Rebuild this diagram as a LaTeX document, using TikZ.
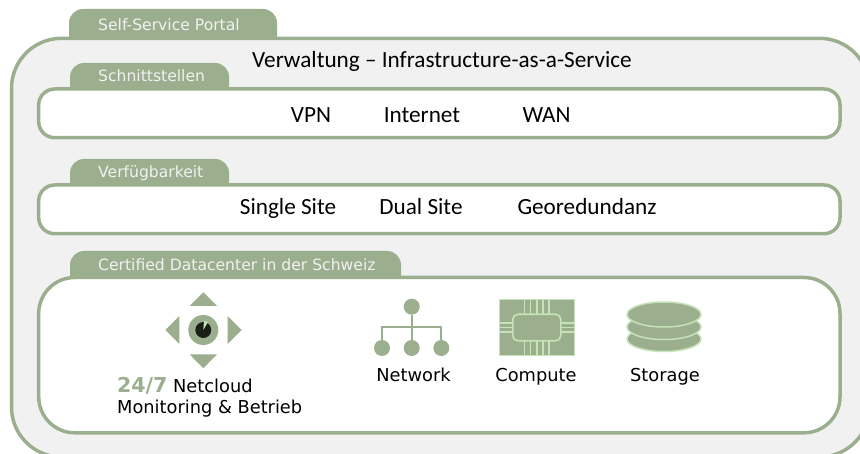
\documentclass[tikz,border=0pt]{standalone}
\usepackage{fontspec}
\setmainfont{Carlito}
\newfontfamily\vfont{DejaVu Sans}
\usepackage{tikz}
\usetikzlibrary{positioning,shapes.geometric}
\definecolor{sagegreen}{HTML}{9BAF8F}
\definecolor{palegreen}{HTML}{C6E3B8}
\definecolor{panelgrey}{HTML}{F1F1F1}
\definecolor{eyeblack}{HTML}{1A1F18}
\tikzset{
  panel/.style={draw=sagegreen, line width=3.5pt, rounded corners=#1, fill=white, inner sep=0pt, outer sep=0pt, anchor=north west},
  tablabel/.style={text=panelgrey, font=\vfont\fontsize{15.6}{15.6}\selectfont, anchor=base west, inner sep=0pt},
  entry/.style={font=\fontsize{23.2}{23.2}\selectfont, text=black, inner sep=0pt, anchor=base},
  iconlabel/.style={font=\vfont\fontsize{17.8}{17.8}\selectfont, text=black, inner sep=0pt, anchor=base},
  netdot/.style={circle, fill=sagegreen, minimum size=16pt, inner sep=0pt},
  pin/.style={draw=palegreen, line width=1.6pt},
  disk/.style={draw=palegreen, fill=sagegreen, line width=1.5pt, ellipse, minimum width=74pt, minimum height=25pt, inner sep=0pt},
}
\newcommand{\tabshape}[3]{\fill[sagegreen] (#1,#3+28) [rounded corners=14pt] -- (#1,#3) -- (#2,#3) [sharp corners] -- (#2,#3+28) -- cycle;}
\begin{document}
\begin{tikzpicture}[x=1pt,y=-1pt]
  \useasboundingbox (0,0) rectangle (860,454);
  % Tabs
  \tabshape{69}{277}{9}
  \node[panel=50pt, fill=panelgrey, minimum width=858pt, minimum height=418.7pt] (outer) at (11.5,38.3) {};
  \tabshape{70}{229}{63}
  \tabshape{70}{229}{159}
  \tabshape{70}{401}{251}

  % Panels
  \node[panel=16pt, minimum width=801.3pt, minimum height=48.7pt] (access) at (38.7,89) {};
  \node[panel=16pt, minimum width=801.3pt, minimum height=48.7pt] (avail) at (38.7,185) {};
  \node[panel=36pt, minimum width=801.3pt, minimum height=155.3pt] (dc) at (38.7,277.5) {};

  % Tab labels
  \node[tablabel] (portal) at (98,30.5) {Self-Service Portal};
  \node[tablabel] (ifaces) at (98,81.5) {Schnittstellen};
  \node[tablabel] (verf) at (98,178) {Verfügbarkeit};
  \node[tablabel] (cert) at (98,270.8) {Certified Datacenter in der Schweiz};

  % Texts
  \node[entry] (title) at (442,67.5) {Verwaltung – Infrastructure-as-a-Service};
  \node[entry] (vpn) at (311,122.5) {VPN};
  \node[entry] (inet) at (422,122.5) {Internet};
  \node[entry] (wan) at (546.5,122.5) {WAN};
  \node[entry] (single) at (288,214.5) {Single Site};
  \node[entry] (dual) at (421,214.5) {Dual Site};
  \node[entry] (geo) at (587,214.5) {Georedundanz};

  % Monitoring icon
  \fill[sagegreen] (203.3,292.3) -- (217,306) -- (189.6,306) -- cycle;
  \fill[sagegreen] (203.3,368.3) -- (217,354.3) -- (189.6,354.3) -- cycle;
  \fill[sagegreen] (165.3,330) -- (179.3,316) -- (179.3,344) -- cycle;
  \fill[sagegreen] (241.7,330) -- (227.7,316) -- (227.7,344) -- cycle;
  \node[circle, fill=sagegreen, minimum size=30pt, inner sep=0pt] (eye) at (203.3,330) {};
  \node[circle, fill=eyeblack, minimum size=16pt, inner sep=0pt] (pupil) at (203.3,330) {};
  \fill[palegreen] (eye.center) -- (204,321) -- (208,322) -- cycle;
  \node[iconlabel, anchor=base west] (netcloud) at (117,392) {\textcolor{sagegreen}{\fontsize{20.5}{20.5}\selectfont\textbf{24/7}} Netcloud};
  \node[iconlabel, anchor=base west] (monitor) at (117,413.7) {Monitoring \& Betrieb};

  % Network icon
  \node[netdot] (n0) at (411.7,306.7) {};
  \node[netdot] (n1) at (382,348) {};
  \node[netdot] (n2) at (411.7,348) {};
  \node[netdot] (n3) at (441.3,348) {};
  \coordinate (nh) at (411.7,327.3);
  \draw[sagegreen, line width=2pt] (n0) -- (n2);
  \draw[sagegreen, line width=2pt] (n1) |- (nh) -| (n3);
  \node[iconlabel] (network) at (413.5,382) {Network};

  % Compute icon
  \node[fill=sagegreen, draw=palegreen, line width=.5pt, minimum width=75pt, minimum height=56.5pt, inner sep=0pt] (board) at (536.8,327.5) {};
  \foreach \x in {-12.4,-6.2,0,6.2,12.4} {
    \draw[pin] (536.8+\x,299.5) -- (536.8+\x,355.5);
  }
  \foreach \y in {-4.3,0,4.3} {
    \draw[pin] (499.5,327.5+\y) -- (574,327.5+\y);
  }
  \node[draw=palegreen, fill=sagegreen, line width=1.6pt, rounded corners=5pt, minimum width=48pt, minimum height=26.5pt, inner sep=0pt] (chip) at (536.8,327.5) {};
  \node[iconlabel] (compute) at (536,382) {Compute};

  % Storage icon
  \node[disk] at (664,339) (d3) {};
  \node[disk] at (664,327) (d2) {};
  \node[disk] at (664,314.5) (d1) {};
  \node[iconlabel] (storage) at (665,382) {Storage};
\end{tikzpicture}
\end{document}
